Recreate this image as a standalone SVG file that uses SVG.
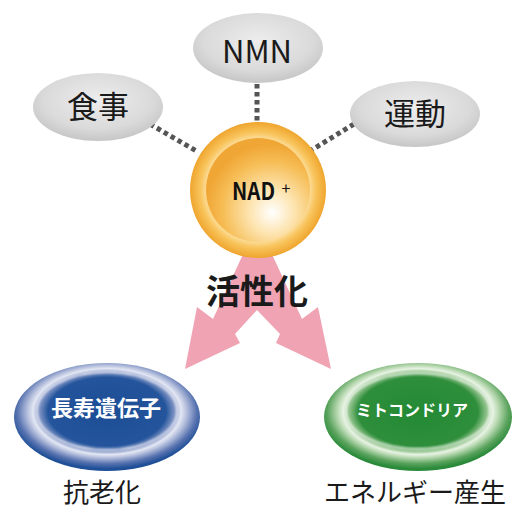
<svg xmlns="http://www.w3.org/2000/svg" width="516" height="513" viewBox="0 0 516 513">
  <defs>
    <radialGradient id="gGray" cx="0.5" cy="0.4" r="0.6">
      <stop offset="0" stop-color="#ededed"/>
      <stop offset="0.7" stop-color="#dadada"/>
      <stop offset="1" stop-color="#c6c6c6"/>
    </radialGradient>
    <radialGradient id="gOuter" cx="0.5" cy="0.5" r="0.5">
      <stop offset="0.74" stop-color="#fde2a6"/>
      <stop offset="0.85" stop-color="#f8c45c"/>
      <stop offset="1" stop-color="#efa52e"/>
    </radialGradient>
    <radialGradient id="gInner" cx="0.62" cy="0.68" r="0.62" fx="0.64" fy="0.72">
      <stop offset="0" stop-color="#ffffff"/>
      <stop offset="0.35" stop-color="#fde4b0"/>
      <stop offset="0.75" stop-color="#f6bd55"/>
      <stop offset="1" stop-color="#f0a635"/>
    </radialGradient>
    <radialGradient id="gBlue" cx="0.5" cy="0.45" r="0.53">
      <stop offset="0" stop-color="#1b4d95"/>
      <stop offset="0.6" stop-color="#24559c"/>
      <stop offset="0.7" stop-color="#8e9ecb"/>
      <stop offset="0.75" stop-color="#e4e8f4"/>
      <stop offset="0.81" stop-color="#b4bedc"/>
      <stop offset="0.91" stop-color="#5873b0"/>
      <stop offset="1" stop-color="#1f4f97"/>
    </radialGradient>
    <radialGradient id="gGreen" cx="0.5" cy="0.45" r="0.53">
      <stop offset="0" stop-color="#238a34"/>
      <stop offset="0.6" stop-color="#2e8e3b"/>
      <stop offset="0.7" stop-color="#9cc996"/>
      <stop offset="0.75" stop-color="#e8f3e4"/>
      <stop offset="0.81" stop-color="#b7d8b0"/>
      <stop offset="0.91" stop-color="#5aa35d"/>
      <stop offset="1" stop-color="#2a8a3a"/>
    </radialGradient>
    <filter id="soft" x="-20%" y="-20%" width="140%" height="140%">
      <feGaussianBlur stdDeviation="0.8"/>
    </filter>
  </defs>
  <style>
    .dots { fill: none; stroke: #555555; stroke-width: 5; stroke-dasharray: 4.5 3.5; }
    .gray { fill: url(#gGray); }
    .lbl { font-family: "Noto Sans CJK JP", "Noto Sans", sans-serif; fill: #1a1a1a; text-anchor: middle; }
    .wt { font-family: "Noto Sans CJK JP", sans-serif; fill: #ffffff; font-weight: bold; text-anchor: middle; }
    .ring { fill: none; stroke: #ffffff; stroke-width: 1.4; opacity: 0.85; }
  </style>

  <g id="connectors">
    <line class="dots" x1="257" y1="84" x2="257" y2="122"/>
    <line class="dots" x1="150" y1="124" x2="198" y2="152"/>
    <line class="dots" x1="354" y1="124" x2="310" y2="151"/>
    <polygon id="arrows" fill="#efa3b3" points="245,250 213,319 197,307 185,369 240,343 235,334 257,310 280,334 276,343 331,369 318,307 302,319 270,250"/>
  </g>

  <g id="node-nmn">
    <ellipse class="gray" cx="258" cy="48" rx="65" ry="35"/>
    <text class="lbl" x="257" y="63" font-size="31">NMN</text>
  </g>
  <g id="node-shokuji">
    <ellipse class="gray" cx="98" cy="107" rx="65" ry="34"/>
    <text class="lbl" x="98" y="118" font-size="31">食事</text>
  </g>
  <g id="node-undou">
    <ellipse class="gray" cx="415" cy="114" rx="65" ry="33"/>
    <text class="lbl" x="415" y="125" font-size="31">運動</text>
  </g>

  <g id="node-nad">
    <circle cx="258" cy="190" r="68" fill="url(#gOuter)"/>
    <circle cx="258" cy="190" r="52" fill="url(#gInner)"/>
    <text x="232" y="200" font-family="Noto Sans CJK JP, Noto Sans, sans-serif" font-size="24" font-weight="bold" fill="#111111" textLength="43" lengthAdjust="spacingAndGlyphs">NAD</text>
    <text x="286" y="194" font-family="Noto Sans CJK JP, Noto Sans, sans-serif" font-size="16" fill="#111111" text-anchor="middle">+</text>
  </g>

  <g id="label-kasseika">
    <text class="lbl" x="257" y="304" font-size="34" font-weight="bold" fill="#000000">活性化</text>
  </g>

  <g id="node-chouju">
    <ellipse cx="107" cy="417" rx="93" ry="54" fill="url(#gBlue)"/>
    <ellipse class="ring" cx="107" cy="411" rx="70" ry="39" filter="url(#soft)"/>
    <text class="wt" x="106" y="416" font-size="22">長寿遺伝子</text>
    <text class="lbl" x="102" y="502" font-size="26">抗老化</text>
  </g>

  <g id="node-mito">
    <ellipse cx="418" cy="417" rx="94" ry="54" fill="url(#gGreen)"/>
    <ellipse class="ring" cx="418" cy="411" rx="72" ry="38" filter="url(#soft)"/>
    <text class="wt" x="412" y="416" font-size="16">ミトコンドリア</text>
    <text class="lbl" x="415" y="502" font-size="26">エネルギー産生</text>
  </g>
</svg>
